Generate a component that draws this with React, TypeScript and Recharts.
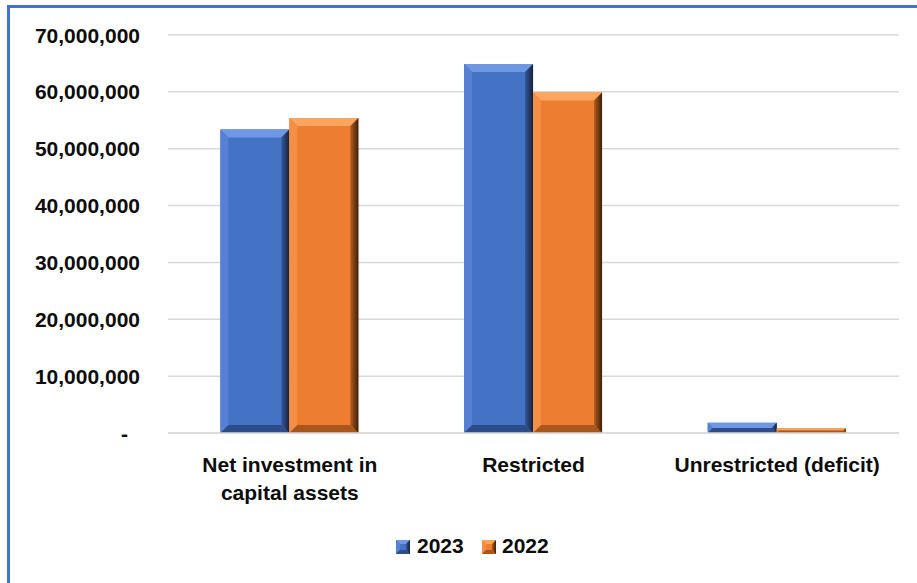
import React from "react";
import { BarChart, Bar, XAxis, YAxis, CartesianGrid, Legend } from "recharts";

const categories = ["Net investment in capital assets", "Restricted", "Unrestricted (deficit)"];
const values2023 = [53400000, 64900000, 1800000];
const values2022 = [55400000, 59900000, 850000];
const yTicks = [0, 10000000, 20000000, 30000000, 40000000, 50000000, 60000000, 70000000];
const seriesNames = ["2023", "2022"];

const data = categories.map((c, i) => ({ name: c, y2023: values2023[i], y2022: values2022[i] }));

const FONT = '"Liberation Sans", Arial, sans-serif';

const palettes: Record<string, { base: string; top: string; left: string; right: string; rightDark: string; bottom: string }> = {
  blue: { base: "#4472C4", top: "#6f97e2", left: "#5681d2", right: "#34589a", rightDark: "#15223d", bottom: "#2d4d88" },
  orange: { base: "#ED7D31", top: "#fba65e", left: "#f58f45", right: "#b25c20", rightDark: "#3f1f08", bottom: "#a8561c" },
};

function bevelShapes(x: number, y: number, w: number, h: number, key: string, bMax: number, id: string) {
  const p = palettes[key];
  const b = Math.max(0, Math.min(bMax, h / 2, w / 2));
  const gid = `g-${id}`;
  return (
    <g>
      <defs>
        <linearGradient id={gid} x1="0" y1="0" x2="1" y2="0">
          <stop offset="0%" stopColor={p.right} />
          <stop offset="100%" stopColor={p.rightDark} />
        </linearGradient>
      </defs>
      <rect x={x} y={y} width={w} height={h} fill={p.base} />
      <polygon points={`${x},${y} ${x + w},${y} ${x + w - b},${y + b} ${x + b},${y + b}`} fill={p.top} />
      <polygon points={`${x},${y} ${x + b},${y + b} ${x + b},${y + h - b} ${x},${y + h}`} fill={p.left} />
      <polygon points={`${x},${y + h} ${x + b},${y + h - b} ${x + w - b},${y + h - b} ${x + w},${y + h}`} fill={p.bottom} />
      <polygon points={`${x + w},${y} ${x + w},${y + h} ${x + w - b},${y + h - b} ${x + w - b},${y + b}`} fill={`url(#${gid})`} />
    </g>
  );
}

const makeBarShape = (key: string) => (props: any) => {
  const { x, y, width, height, index } = props;
  if (!height || height <= 0) return <g />;
  return bevelShapes(x, y, width, height, key, 8, `${key}-${index}`);
};

const YTick = (props: any) => {
  const { x, y, payload } = props;
  const v = payload.value as number;
  if (v === 0) {
    return (
      <text x={x - 12} y={y} dy="0.36em" textAnchor="end" fontFamily={FONT} fontWeight="bold" fontSize={21} fill="#0d0d0d">
        -
      </text>
    );
  }
  return (
    <text x={x} y={y} dy="0.36em" textAnchor="end" fontFamily={FONT} fontWeight="bold" fontSize={21} fill="#0d0d0d">
      {v.toLocaleString("en-US")}
    </text>
  );
};

function wrapLabel(s: string, maxChars: number): string[] {
  const words = s.split(" ");
  const lines: string[] = [];
  let cur = "";
  for (const w of words) {
    const next = cur ? cur + " " + w : w;
    if (next.length > maxChars && cur) {
      lines.push(cur);
      cur = w;
    } else {
      cur = next;
    }
  }
  if (cur) lines.push(cur);
  return lines;
}

const XTick = (props: any) => {
  const { x, y, payload } = props;
  const lines = wrapLabel(String(payload.value), 22);
  return (
    <text x={x} y={y + 39} textAnchor="middle" fontFamily={FONT} fontWeight="bold" fontSize={21} fill="#0d0d0d">
      {lines.map((l, i) => (
        <tspan key={i} x={x} dy={i === 0 ? 0 : 28}>
          {l}
        </tspan>
      ))}
    </text>
  );
};

const LegendContent = () => {
  const items = [
    { name: seriesNames[0], key: "blue", sx: 396, tx: 417 },
    { name: seriesNames[1], key: "orange", sx: 482, tx: 502 },
  ];
  return (
    <svg width={917} height={50} style={{ display: "block" }}>
      {items.map((it) => (
        <g key={it.name}>
          {bevelShapes(it.sx, 7, 14, 14, it.key, 4, `leg-${it.key}`)}
          <text x={it.tx} y={20} fontFamily={FONT} fontWeight="bold" fontSize={21} fill="#0d0d0d">
            {it.name}
          </text>
        </g>
      ))}
    </svg>
  );
};

export default function App() {
  return (
    <div style={{ position: "absolute", left: 0, top: 0, width: 917, height: 583, overflow: "hidden", background: "#fff" }}>
      <div
        style={{
          position: "absolute",
          left: 7,
          top: 5,
          width: 1000,
          height: 700,
          borderLeft: "3px solid #4472C4",
          borderTop: "3px solid #4472C4",
        }}
      />
      <div style={{ position: "absolute", left: 0, top: 0 }}>
        <BarChart
          width={917}
          height={583}
          data={data}
          margin={{ top: 35, right: 18, left: 0, bottom: 0 }}
          barCategoryGap="21.5%"
          barGap={0}
        >
          <CartesianGrid vertical={false} stroke="#d9d9d9" strokeWidth={1.5} />
          <XAxis
            dataKey="name"
            height={100}
            interval={0}
            tickLine={false}
            tickSize={0}
            tickMargin={0}
            axisLine={{ stroke: "#d9d9d9", strokeWidth: 1.5 }}
            tick={<XTick />}
          />
          <YAxis
            width={168}
            domain={[0, 70000000]}
            ticks={yTicks}
            interval={0}
            axisLine={false}
            tickLine={false}
            tickSize={0}
            tickMargin={28}
            tick={<YTick />}
          />
          <Legend
            verticalAlign="bottom"
            height={50}
            width={917}
            wrapperStyle={{ left: 0, bottom: 0, width: 917, height: 50 }}
            content={<LegendContent />}
          />
          <Bar dataKey="y2023" name={seriesNames[0]} fill="#4472C4" isAnimationActive={false} shape={makeBarShape("blue")} />
          <Bar dataKey="y2022" name={seriesNames[1]} fill="#ED7D31" isAnimationActive={false} shape={makeBarShape("orange")} />
        </BarChart>
      </div>
    </div>
  );
}
